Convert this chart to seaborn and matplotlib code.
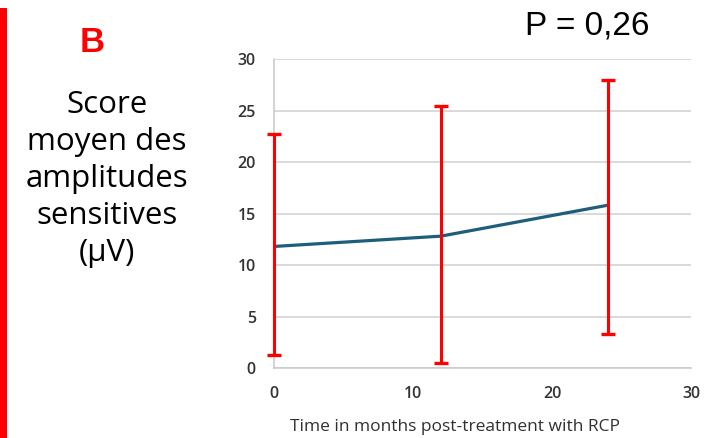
import matplotlib
matplotlib.use("Agg")
import matplotlib.pyplot as plt
from matplotlib.patches import Rectangle
import seaborn as sns
import numpy as np
import pandas as pd

# Mean sensory amplitude over follow-up, with range bars
months = [0, 12, 24]
mean_amp = [11.8, 12.8, 15.8]
bar_low = [1.3, 0.5, 3.3]
bar_high = [22.7, 25.4, 28.0]

x_ticks = [0, 10, 20, 30]
y_ticks = [0, 5, 10, 15, 20, 25, 30]

sns.set_theme(style="white")
plt.rcParams["font.family"] = ["Open Sans", "DejaVu Sans"]

fig = plt.figure(figsize=(7.18, 4.38), dpi=100)
ax = fig.add_axes([0.3816, 0.1598, 0.5808, 0.7055])

df = pd.DataFrame({"months": months, "amp": mean_amp})
sns.lineplot(data=df, x="months", y="amp", ax=ax, color="#1f5d7c", lw=2.3, zorder=3)

mean = np.array(mean_amp)
yerr = np.vstack([mean - np.array(bar_low), np.array(bar_high) - mean])
eb = ax.errorbar(months, mean_amp, yerr=yerr, fmt="none", ecolor="#ff0000",
                 elinewidth=2.2, capsize=5, capthick=2.4, zorder=4)
for art in eb.lines[1] + eb.lines[2]:
    art.set_clip_on(False)

ax.set_xlim(0, 30)
ax.set_ylim(0, 30)
ax.set_xticks(x_ticks)
ax.set_yticks(y_ticks)
ax.yaxis.grid(True, color="#d0d0d0", lw=1.1)
ax.xaxis.grid(False)
for side in ("top", "right"):
    ax.spines[side].set_visible(False)
for side in ("left", "bottom"):
    ax.spines[side].set_color("#c8c8c8")
    ax.spines[side].set_linewidth(1.1)
ax.tick_params(axis="both", direction="out", length=4, width=1.1, color="#c8c8c8",
               labelsize=11.5, labelcolor="#333333")
for lbl in ax.get_xticklabels() + ax.get_yticklabels():
    lbl.set_fontweight("semibold")
ax.tick_params(axis="y", pad=9)
ax.tick_params(axis="x", pad=9)
ax.set_ylabel("")
ax.set_xlabel("Time in months post-treatment with RCP", fontsize=12.5, color="#303030")
ax.xaxis.set_label_coords(0.434, -0.165)

# Panel decorations
fig.add_artist(Rectangle((0.0, 0.0), 0.0098, 0.982, transform=fig.transFigure,
                         color="#ff0000", lw=0))
fig.text(0.129, 0.904, "B", color="#ff0000", fontsize=25, fontweight="bold",
         ha="center", va="center", family=["Liberation Sans", "DejaVu Sans"])
fig.text(0.149, 0.592, "Score\nmoyen des\namplitudes\nsensitives\n(µV)",
         ha="center", va="center", fontsize=22.5, linespacing=1.3, color="black",
         family=["Open Sans", "DejaVu Sans"])
fig.text(0.731, 0.922, "P = 0,26", ha="left", va="baseline", fontsize=24,
         color="black", family=["Liberation Sans", "DejaVu Sans"])

fig.savefig("out.png", dpi=100)
